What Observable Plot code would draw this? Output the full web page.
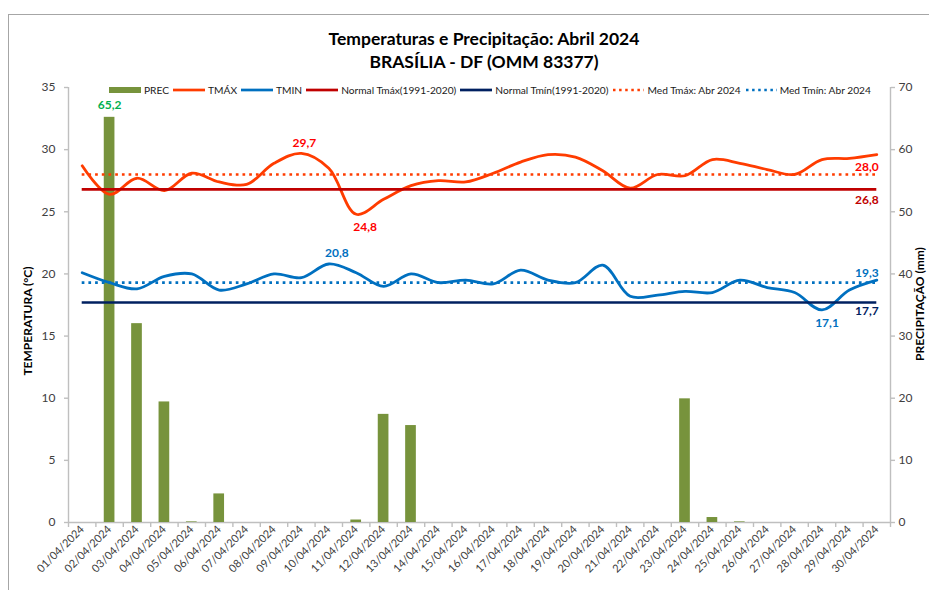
<!DOCTYPE html>
<html>
<head>
<meta charset="utf-8">
<script src="https://cdn.jsdelivr.net/npm/d3@7"></script>
<script src="https://cdn.jsdelivr.net/npm/@observablehq/plot@0.6"></script>
<style>
  html, body { margin: 0; padding: 0; background: #fff; overflow: hidden; }
  #wrap { position: relative; width: 929px; height: 590px; overflow: hidden; font-family: Lato, "Open Sans", sans-serif; }
  #wrap svg.plot { position: absolute; left: 0; top: 0; }
  #border { position: absolute; left: 8px; top: 14px; width: 1000px; height: 700px; border: 1px solid #A6A6A6; box-sizing: border-box; pointer-events: none; }
  #title { position: absolute; left: 0; width: 968px; top: 26.5px; text-align: center; font-weight: 700; font-size: 17.5px; line-height: 23px; color: #000; }
  #legend { position: absolute; left: 109px; top: 83px; height: 13px; display: flex; align-items: center; font-size: 10.2px; color: #1a1a1a; white-space: nowrap; }
  #legend .item { display: flex; align-items: center; margin-right: 4px; }
  #legend svg { margin-right: 3px; display: block; }
  .ytitle { position: absolute; font-weight: 700; font-size: 12px; color: #000; white-space: nowrap; transform: translate(-50%, -50%) rotate(-90deg); line-height: 14px; }
</style>
</head>
<body>
<div id="wrap">
  <div id="title">Temperaturas e Precipitação: Abril 2024<br>BRASÍLIA - DF (OMM 83377)</div>
  <div id="legend"></div>
  <div class="ytitle" style="left:28px; top:321px;">TEMPERATURA (°C)</div>
  <div class="ytitle" style="left:920px; top:304px;">PRECIPITAÇÃO (mm)</div>
</div>
<script>
// ---------- data ----------
const days = [1,2,3,4,5,6,7,8,9,10,11,12,13,14,15,16,17,18,19,20,21,22,23,24,25,26,27,28,29,30];
const dateLabels = ["01/04/2024","02/04/2024","03/04/2024","04/04/2024","05/04/2024","06/04/2024","07/04/2024","08/04/2024","09/04/2024","10/04/2024",
  "11/04/2024","12/04/2024","13/04/2024","14/04/2024","15/04/2024","16/04/2024","17/04/2024","18/04/2024","19/04/2024","20/04/2024",
  "21/04/2024","22/04/2024","23/04/2024","24/04/2024","25/04/2024","26/04/2024","27/04/2024","28/04/2024","29/04/2024","30/04/2024"];
const prec = [0, 65.2, 32.0, 19.4, 0.1, 4.6, 0, 0, 0, 0,
  0.4, 17.4, 15.6, 0, 0, 0, 0, 0, 0, 0,
  0, 0, 19.9, 0.8, 0.1, 0, 0, 0, 0, 0];
const tmax = [28.7, 26.4, 27.7, 26.7, 28.1, 27.4, 27.2, 28.9, 29.7, 28.5,
  24.8, 26.0, 27.1, 27.5, 27.4, 28.1, 29.0, 29.6, 29.4, 28.3,
  26.9, 28.0, 27.9, 29.2, 28.9, 28.4, 28.0, 29.2, 29.3, 29.6];
const tmin = [20.1, 19.3, 18.8, 19.8, 20.0, 18.7, 19.2, 20.0, 19.7, 20.8,
  20.1, 19.0, 20.0, 19.3, 19.5, 19.2, 20.3, 19.5, 19.3, 20.7,
  18.2, 18.3, 18.6, 18.5, 19.5, 18.9, 18.5, 17.1, 18.7, 19.5];
const normalTmax = 26.8;
const normalTmin = 17.7;
const medTmax = 28.0;
const medTmin = 19.3;
const tempTicks = [0, 5, 10, 15, 20, 25, 30, 35];
const precTicks = [0, 10, 20, 30, 40, 50, 60, 70];

// ---------- colours ----------
const C = {
  prec: "#77933C", tmax: "#FF3C00", tmin: "#0070C0",
  nmax: "#C00000", nmin: "#002060", axis: "#BFBFBF", text: "#404040"
};

const rows = days.map((d, i) => ({day: d, prec: prec[i], tmax: tmax[i], tmin: tmin[i]}));
const fmt = v => v.toFixed(1).replace(".", ",");
const ratio = 35 / 70; // precipitation (right axis) -> temperature (left axis)
const first = days[0], last = days[days.length - 1];
const boundaries = days.map(d => d - 0.5).concat([last + 0.5]);

const iMaxPrec = d3.maxIndex(prec);
const iMaxT = d3.maxIndex(tmax.slice(0, 15));
const iMinT = d3.minIndex(tmax);
const iMaxN = d3.maxIndex(tmin);
const iMinN = d3.minIndex(tmin);

const lbl = {fontWeight: "bold", fontSize: 12, fontFamily: "Lato, sans-serif"};

const chart = Plot.plot({
  width: 929, height: 590,
  marginLeft: 68, marginRight: 39, marginTop: 87, marginBottom: 68,
  style: {background: "transparent", fontFamily: "Lato, 'Open Sans', sans-serif", color: C.text, overflow: "visible"},
  x: {type: "linear", domain: [first - 0.5, last + 0.5], axis: null, label: null},
  y: {domain: [0, 35], axis: null, label: null},
  marks: [
    // axes frame
    Plot.ruleY([0], {stroke: C.axis, strokeWidth: 1.4}),
    Plot.ruleX([first - 0.5, last + 0.5], {stroke: C.axis, strokeWidth: 1.4}),
    // left axis
    Plot.axisY({anchor: "left", ticks: tempTicks, tickSize: 4, tickFormat: () => "", stroke: C.axis, strokeWidth: 1.4, label: null}),
    Plot.axisY({anchor: "left", ticks: tempTicks, tickSize: 0, tickPadding: 13, fontSize: 12, fill: C.text, label: null}),
    // right axis
    Plot.axisY({anchor: "right", ticks: precTicks.map(v => v * ratio), tickSize: 4, tickFormat: () => "", stroke: C.axis, strokeWidth: 1.4, label: null}),
    Plot.axisY({anchor: "right", ticks: precTicks.map(v => v * ratio), tickSize: 0, tickPadding: 8, fontSize: 12, fill: C.text, tickFormat: d => Math.round(d / ratio), label: null}),
    // x axis
    Plot.axisX({ticks: boundaries, tickSize: 5, tickFormat: () => "", stroke: C.axis, strokeWidth: 1.4, label: null}),
    Plot.axisX({ticks: days, tickSize: 0, tickPadding: 5, tickRotate: -45, fontSize: 11, fill: C.text, tickFormat: d => dateLabels[d - 1], label: null}),
    // precipitation bars
    Plot.rect(rows.filter(r => r.prec > 0), {x1: r => r.day - 0.195, x2: r => r.day + 0.195, y1: 0, y2: r => r.prec * ratio, fill: C.prec}),
    // temperature lines
    Plot.line(rows, {x: "day", y: "tmax", curve: "catmull-rom", stroke: C.tmax, strokeWidth: 2.8}),
    Plot.line(rows, {x: "day", y: "tmin", curve: "catmull-rom", stroke: C.tmin, strokeWidth: 2.8}),
    Plot.ruleY([normalTmax], {x1: first, x2: last, stroke: C.nmax, strokeWidth: 2.7}),
    Plot.ruleY([normalTmin], {x1: first, x2: last, stroke: C.nmin, strokeWidth: 2.7}),
    Plot.ruleY([medTmax], {x1: first, x2: last, stroke: C.tmax, strokeWidth: 2.7, strokeDasharray: "2.7,4"}),
    Plot.ruleY([medTmin], {x1: first, x2: last, stroke: C.tmin, strokeWidth: 2.7, strokeDasharray: "2.7,4"}),
    // data labels
    Plot.text([rows[iMaxPrec]], {x: "day", y: r => r.prec * ratio, text: r => fmt(r.prec), dy: -12, fill: "#00B050", ...lbl}),
    Plot.text([rows[iMaxT]], {x: "day", y: "tmax", text: r => fmt(r.tmax), dx: 3, dy: -10, fill: "#FF0000", ...lbl}),
    Plot.text([rows[iMinT]], {x: "day", y: "tmax", text: r => fmt(r.tmax), dx: 9, dy: 13, fill: "#FF0000", ...lbl}),
    Plot.text([rows[iMaxN]], {x: "day", y: "tmin", text: r => fmt(r.tmin), dx: 8, dy: -11, fill: C.tmin, ...lbl}),
    Plot.text([rows[iMinN]], {x: "day", y: "tmin", text: r => fmt(r.tmin), dx: 5, dy: 13, fill: C.tmin, ...lbl}),
    Plot.text([medTmax], {x: last, y: d => d, text: fmt, textAnchor: "end", dx: 2, dy: -7, fill: "#FF0000", ...lbl}),
    Plot.text([normalTmax], {x: last, y: d => d, text: fmt, textAnchor: "end", dx: 2, dy: 11, fill: C.nmax, ...lbl}),
    Plot.text([medTmin], {x: last, y: d => d, text: fmt, textAnchor: "end", dx: 2, dy: -9.5, fill: C.tmin, ...lbl}),
    Plot.text([normalTmin], {x: last, y: d => d, text: fmt, textAnchor: "end", dx: 2, dy: 8.5, fill: C.nmin, ...lbl})
  ]
});
chart.classList.add("plot");
const wrap = document.getElementById("wrap");
wrap.insertBefore(chart, wrap.firstChild);
const border = document.createElement("div");
border.id = "border";
wrap.appendChild(border);

// ---------- legend ----------
const legendItems = [
  {label: "PREC", kind: "rect", color: C.prec},
  {label: "TMÁX", kind: "line", color: C.tmax},
  {label: "TMIN", kind: "line", color: C.tmin},
  {label: "Normal Tmáx(1991-2020)", kind: "line", color: C.nmax},
  {label: "Normal Tmín(1991-2020)", kind: "line", color: C.nmin},
  {label: "Med Tmáx: Abr 2024", kind: "dot", color: C.tmax},
  {label: "Med Tmín: Abr 2024", kind: "dot", color: C.tmin}
];
const legend = document.getElementById("legend");
for (const it of legendItems) {
  const item = document.createElement("div");
  item.className = "item";
  let sw;
  if (it.kind === "rect") sw = `<svg width="32" height="8"><rect x="0" y="1" width="32" height="6" fill="${it.color}"/></svg>`;
  else if (it.kind === "line") sw = `<svg width="32" height="8"><line x1="0" x2="32" y1="4" y2="4" stroke="${it.color}" stroke-width="2.7"/></svg>`;
  else sw = `<svg width="32" height="8"><line x1="1" x2="32" y1="4" y2="4" stroke="${it.color}" stroke-width="2.5" stroke-dasharray="2.5,3.6"/></svg>`;
  item.innerHTML = sw + `<span>${it.label}</span>`;
  legend.appendChild(item);
}
</script>
</body>
</html>
